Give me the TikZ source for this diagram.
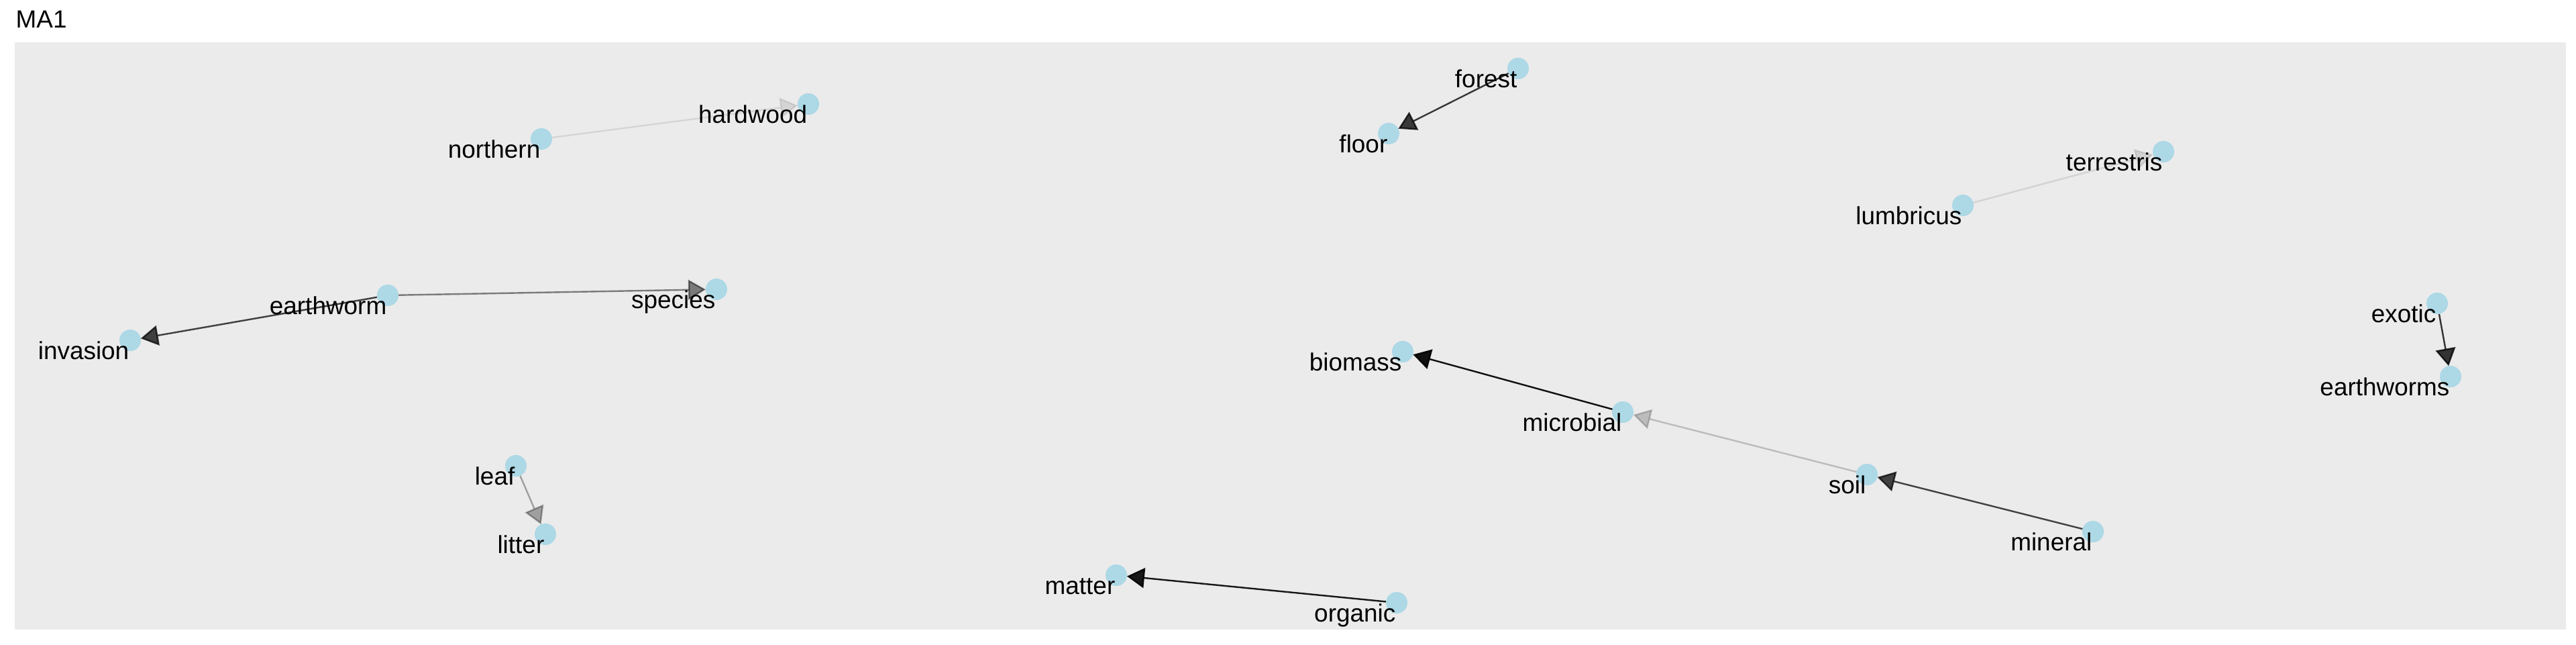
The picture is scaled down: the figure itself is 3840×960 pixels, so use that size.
\documentclass[tikz,border=0pt]{standalone}
\usepackage{fontspec}
\setmainfont{Liberation Sans}
\usetikzlibrary{arrows.meta}
\pgfdeclarelayer{bg}
\pgfdeclarelayer{edges}
\pgfsetlayers{bg,edges,main}
\definecolor{panelbg}{HTML}{EBEBEB}
\definecolor{nodeblue}{HTML}{ADD8E6}
\tikzset{
  vert/.style={circle, fill=nodeblue, draw=none, minimum size=0.32cm, inner sep=0pt, outer sep=0pt},
  lbl/.style={anchor=base east, inner sep=0pt, font=\fontsize{10.5}{12}\selectfont, text=black},
  edgearr/.style={-{Triangle[length=0.26cm,width=0.30cm]}, line width=0.024cm, draw=black, opacity=#1},
  titletext/.style={anchor=base west, inner sep=0pt, font=\fontsize{10.5}{12}\selectfont}
}
\begin{document}
\begin{tikzpicture}[x=0.01cm, y=-0.01cm]
\useasboundingbox (0,0) rectangle (3840,960);
\begin{pgfonlayer}{bg}
\fill[white] (0,0) rectangle (3840,960);
\fill[panelbg] (22,63) rectangle (3825,938);
\end{pgfonlayer}
\node[titletext] (title) at (23,41) {MA1};
% nodes
\node[vert] (northern) at (807,207) {};
\node[vert] (hardwood) at (1205,155) {};
\node[vert] (earthworm) at (578,440) {};
\node[vert] (species) at (1068,431) {};
\node[vert] (invasion) at (194,507) {};
\node[vert] (leaf) at (769,694) {};
\node[vert] (litter) at (813,796) {};
\node[vert] (forest) at (2263,102) {};
\node[vert] (floor) at (2070,199) {};
\node[vert] (biomass) at (2091,524) {};
\node[vert] (microbial) at (2419,614) {};
\node[vert] (matter) at (1664,857) {};
\node[vert] (organic) at (2082,898) {};
\node[vert] (terrestris) at (3225,226) {};
\node[vert] (lumbricus) at (2926,306) {};
\node[vert] (exotic) at (3633,452) {};
\node[vert] (earthworms) at (3653,561) {};
\node[vert] (soil) at (2783,707) {};
\node[vert] (mineral) at (3120,792) {};
% edges
\begin{pgfonlayer}{edges}
\draw[edgearr=0.09] (northern) -- (hardwood);
\draw[edgearr=0.48] (earthworm) -- (species);
\draw[edgearr=0.73] (earthworm) -- (invasion);
\draw[edgearr=0.32] (leaf) -- (litter);
\draw[edgearr=0.76] (forest) -- (floor);
\draw[edgearr=0.93] (microbial) -- (biomass);
\draw[edgearr=0.20] (soil) -- (microbial);
\draw[edgearr=0.72] (mineral) -- (soil);
\draw[edgearr=0.90] (organic) -- (matter);
\draw[edgearr=0.10] (lumbricus) -- (terrestris);
\draw[edgearr=0.78] (exotic) -- (earthworms);
\end{pgfonlayer}
% labels
\foreach \n in {northern,hardwood,earthworm,species,invasion,leaf,litter,forest,floor,biomass,microbial,matter,organic,terrestris,lumbricus,exotic,earthworms,soil,mineral}{
  \node[lbl] (l-\n) at ([yshift=-0.28cm,xshift=-0.01cm]\n.center) {\n};
}
\end{tikzpicture}
\end{document}
